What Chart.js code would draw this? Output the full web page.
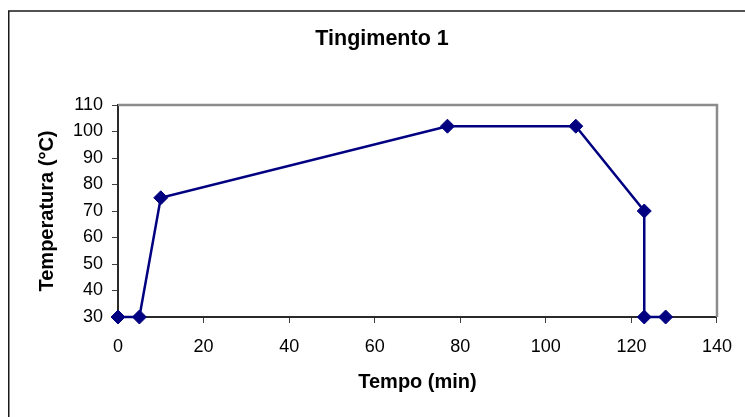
<!DOCTYPE html>
<html>
<head>
<meta charset="utf-8">
<script src="https://cdn.jsdelivr.net/npm/chart.js@4"></script>
<style>
  html, body { margin: 0; padding: 0; background: #fff; }
  canvas { display: block; }
</style>
</head>
<body>
<canvas id="chart" width="745" height="417"></canvas>
<script>
// Dyeing curve: time (min) vs temperature (°C)
const tempo = [0, 5, 10, 77, 107, 123, 123, 128];
const temperatura = [30, 30, 75, 102, 102, 70, 30, 30];
const xTickValues = [0, 20, 40, 60, 80, 100, 120, 140];
const yTickValues = [30, 40, 50, 60, 70, 80, 90, 100, 110];
const chartTitle = 'Tingimento 1';
const xTitle = 'Tempo (min)';
const yTitle = 'Temperatura (°C)';

const FONT = "'Liberation Sans', Arial, sans-serif";
const navy = '#000080';

const points = tempo.map((t, i) => ({ x: t, y: temperatura[i] }));

// Frame, plot box edges and the chart heading
const decorations = {
  id: 'decorations',
  beforeDatasetsDraw(chart) {
    const { ctx, chartArea: a } = chart;
    ctx.save();
    ctx.strokeStyle = '#8c8c8c';
    ctx.lineWidth = 2.5;
    ctx.beginPath();
    ctx.moveTo(a.left, a.top);
    ctx.lineTo(a.right, a.top);
    ctx.lineTo(a.right, a.bottom);
    ctx.stroke();
    ctx.restore();
  },
  afterDraw(chart) {
    const { ctx } = chart;
    ctx.save();
    ctx.strokeStyle = '#1a1a1a';
    ctx.lineWidth = 1.5;
    ctx.beginPath();
    ctx.moveTo(8.75, 430);
    ctx.lineTo(8.75, 11);
    ctx.lineTo(760, 11);
    ctx.stroke();
    ctx.fillStyle = '#000';
    ctx.font = 'bold 21.5px ' + FONT;
    ctx.textAlign = 'center';
    ctx.textBaseline = 'middle';
    ctx.fillText(chartTitle, 382, 39);
    ctx.restore();
  }
};

new Chart(document.getElementById('chart'), {
  type: 'scatter',
  data: {
    datasets: [{
      data: points,
      showLine: true,
      borderColor: navy,
      borderWidth: 2.5,
      backgroundColor: navy,
      pointStyle: 'rectRot',
      pointRadius: 7,
      pointHoverRadius: 7,
      pointBorderWidth: 1,
      pointBorderColor: navy,
      clip: false,
      tension: 0
    }]
  },
  options: {
    responsive: false,
    animation: false,
    devicePixelRatio: 1,
    layout: { padding: { top: 105, right: 28, bottom: 0, left: 0 } },
    plugins: {
      legend: { display: false },
      tooltip: { enabled: false },
      title: { display: false }
    },
    scales: {
      x: {
        type: 'linear',
        min: 0,
        max: 140,
        afterBuildTicks(scale) { scale.ticks = xTickValues.map(v => ({ value: v })); },
        afterFit(scale) { scale.height = 100; },
        ticks: {
          color: '#000',
          font: { family: FONT, size: 18 },
          padding: 13,
          maxRotation: 0
        },
        grid: {
          drawOnChartArea: false,
          drawTicks: true,
          tickLength: 6,
          color: '#404040',
          lineWidth: 1
        },
        border: { display: true, color: '#2a2a2a', width: 2 },
        title: {
          display: true,
          text: xTitle,
          color: '#000',
          font: { family: FONT, size: 20, weight: 'bold' },
          padding: { top: 0, bottom: 23 }
        }
      },
      y: {
        type: 'linear',
        min: 30,
        max: 110,
        afterBuildTicks(scale) { scale.ticks = yTickValues.map(v => ({ value: v })); },
        afterFit(scale) { scale.width = 118; },
        ticks: {
          color: '#000',
          font: { family: FONT, size: 18 },
          padding: 9
        },
        grid: {
          drawOnChartArea: false,
          drawTicks: true,
          tickLength: 6,
          color: '#404040',
          lineWidth: 1
        },
        border: { display: true, color: '#2a2a2a', width: 2 },
        title: {
          display: true,
          text: yTitle,
          color: '#000',
          font: { family: FONT, size: 20, weight: 'bold' },
          padding: { top: 35, bottom: 0 }
        }
      }
    }
  },
  plugins: [decorations]
});
</script>
</body>
</html>
